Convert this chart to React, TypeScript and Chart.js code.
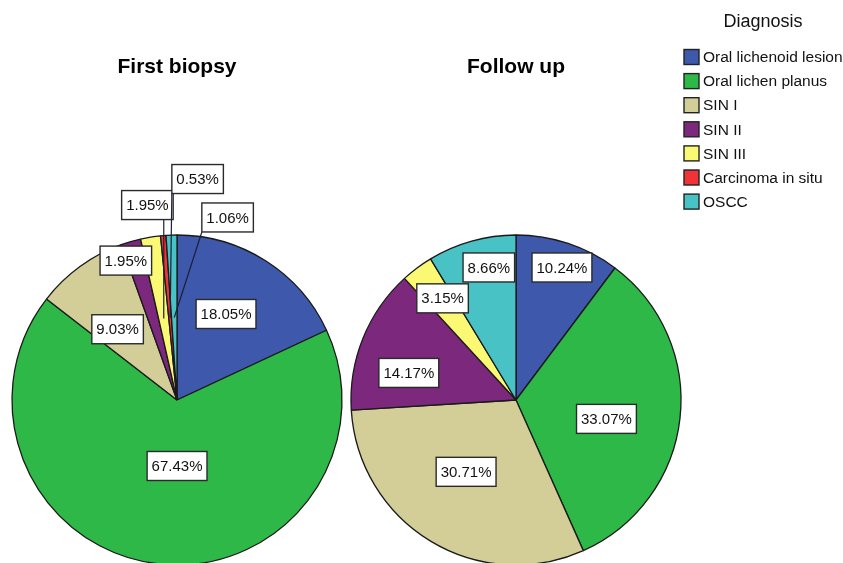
import { useEffect, useRef } from 'react';
import { Chart, registerables } from 'chart.js';

Chart.register(...registerables);

// Diagnosis categories and their share (%) at each time point
const diagnoses = [
  'Oral lichenoid lesion',
  'Oral lichen planus',
  'SIN I',
  'SIN II',
  'SIN III',
  'Carcinoma in situ',
  'OSCC',
];
const firstBiopsyPct = [18.05, 67.43, 9.03, 1.95, 1.95, 0.53, 1.06];
const followUpPct = [10.24, 33.07, 30.71, 14.17, 3.15, 0, 8.66];

const diagnosisColors = ['#3E58AC', '#2EB848', '#D3CE97', '#7C287D', '#FBF873', '#EF3338', '#48C2C5'];

// Label placement per slice: distance as a fraction of the radius, angular nudge (degrees),
// and whether the label sits outside with a leader line
const firstLabelRadius = [0.6, 0.4, 0.56, 0.9, 1.195, 1.345, 1.148];
const firstLabelNudge = [-2.8, -6.4, -4, -3.9, 0.6, 10.1, 17.4];
const firstLabelLeader = [false, false, false, false, true, true, true];
const followLabelRadius = [0.85, 0.56, 0.53, 0.67, 0.76, 0, 0.82];
const followLabelNudge = [0.7, 5.4, 3.6, -7.8, 1, 0, 4];
const followLabelLeader = [false, false, false, false, false, false, false];

const W = 843;
const H = 620;
const FONT = '"Liberation Sans", Arial, sans-serif';
const PIE_R = 165;

type LabelLayout = { radius: number[]; nudge: number[]; leader: boolean[] };

function labelPlugin(title: string, layout: LabelLayout) {
  return {
    id: 'pctLabels',
    afterDatasetsDraw(chart: any) {
      const ctx: CanvasRenderingContext2D = chart.ctx;
      const meta = chart.getDatasetMeta(0);
      const values: number[] = chart.data.datasets[0].data;
      const area = chart.chartArea;
      const cx = (area.left + area.right) / 2;

      ctx.save();
      // chart title
      ctx.fillStyle = '#000';
      ctx.font = `bold 21px ${FONT}`;
      ctx.textAlign = 'center';
      ctx.textBaseline = 'alphabetic';
      ctx.fillText(title, cx, 73);

      ctx.font = `15px ${FONT}`;
      meta.data.forEach((arc: any, i: number) => {
        const v = values[i];
        if (!v) return;
        const { x, y, startAngle, endAngle, outerRadius } = arc.getProps(
          ['x', 'y', 'startAngle', 'endAngle', 'outerRadius'],
          true
        );
        const mid = (startAngle + endAngle) / 2;
        const a = mid + (layout.nudge[i] * Math.PI) / 180;
        const lx = x + Math.cos(a) * outerRadius * layout.radius[i];
        const ly = y + Math.sin(a) * outerRadius * layout.radius[i];
        const text = `${v.toFixed(2)}%`;
        const tw = ctx.measureText(text).width;
        const bw = tw + 9;
        const bh = 29;
        const bx = lx - bw / 2;
        const by = ly - bh / 2;

        if (layout.leader[i]) {
          const ax = x + Math.cos(mid) * outerRadius * 0.5;
          const ay = y + Math.sin(mid) * outerRadius * 0.5;
          const px = Math.min(Math.max(ax, bx), bx + bw);
          const py = Math.min(Math.max(ay, by), by + bh);
          ctx.strokeStyle = '#1b1f3a';
          ctx.lineWidth = 1.2;
          ctx.beginPath();
          ctx.moveTo(px, py);
          ctx.lineTo(ax, ay);
          ctx.stroke();
        }

        ctx.fillStyle = '#fff';
        ctx.fillRect(bx, by, bw, bh);
        ctx.strokeStyle = '#2a2a2a';
        ctx.lineWidth = 1.4;
        ctx.strokeRect(bx, by, bw, bh);
        ctx.fillStyle = '#111';
        ctx.textAlign = 'center';
        ctx.textBaseline = 'middle';
        ctx.fillText(text, lx, ly + 1);
      });
      ctx.restore();
    },
  };
}

const legendPlugin = {
  id: 'diagnosisLegend',
  afterDraw(chart: any) {
    const ctx: CanvasRenderingContext2D = chart.ctx;
    ctx.save();
    ctx.fillStyle = '#111';
    ctx.font = `18px ${FONT}`;
    ctx.textAlign = 'center';
    ctx.textBaseline = 'alphabetic';
    ctx.fillText('Diagnosis', 763, 27);

    ctx.font = `15.5px ${FONT}`;
    ctx.textAlign = 'left';
    ctx.textBaseline = 'middle';
    diagnoses.forEach((name, i) => {
      const cy = 57 + i * 24.1;
      ctx.fillStyle = diagnosisColors[i];
      ctx.fillRect(684, cy - 7.5, 15, 15);
      ctx.strokeStyle = '#222';
      ctx.lineWidth = 1.4;
      ctx.strokeRect(684, cy - 7.5, 15, 15);
      ctx.fillStyle = '#111';
      ctx.fillText(name, 703, cy + 1);
    });
    ctx.restore();
  },
};

function makePie(
  canvas: HTMLCanvasElement,
  values: number[],
  centerX: number,
  title: string,
  layout: LabelLayout,
  withLegend: boolean
) {
  const centerY = 400;
  const plugins: any[] = [labelPlugin(title, layout)];
  if (withLegend) plugins.push(legendPlugin);
  return new Chart(canvas, {
    type: 'pie',
    data: {
      labels: diagnoses,
      datasets: [
        {
          data: values,
          backgroundColor: diagnosisColors,
          borderColor: '#1a1a1a',
          borderWidth: 1.3,
          radius: PIE_R,
        } as any,
      ],
    },
    options: {
      responsive: false,
      animation: false,
      devicePixelRatio: 1,
      rotation: 0,
      layout: {
        padding: {
          left: centerX - PIE_R - 2,
          right: W - (centerX + PIE_R + 2),
          top: centerY - PIE_R - 2,
          bottom: H - (centerY + PIE_R + 2),
        },
      },
      plugins: {
        legend: { display: false },
        tooltip: { enabled: false },
        title: { display: false },
      },
    },
    plugins,
  });
}

export default function App() {
  const leftRef = useRef<HTMLCanvasElement>(null);
  const rightRef = useRef<HTMLCanvasElement>(null);

  useEffect(() => {
    const left = makePie(leftRef.current!, firstBiopsyPct, 177, 'First biopsy', {
      radius: firstLabelRadius,
      nudge: firstLabelNudge,
      leader: firstLabelLeader,
    }, false);
    const right = makePie(rightRef.current!, followUpPct, 516, 'Follow up', {
      radius: followLabelRadius,
      nudge: followLabelNudge,
      leader: followLabelLeader,
    }, true);
    return () => {
      left.destroy();
      right.destroy();
    };
  }, []);

  const canvasStyle: React.CSSProperties = {
    position: 'absolute',
    left: 0,
    top: 0,
    width: W,
    height: H,
  };

  return (
    <div
      style={{
        position: 'absolute',
        left: 0,
        top: 0,
        width: 843,
        height: 563,
        overflow: 'hidden',
        background: '#fff',
      }}
    >
      <canvas ref={leftRef} width={W} height={H} style={canvasStyle} />
      <canvas ref={rightRef} width={W} height={H} style={canvasStyle} />
    </div>
  );
}
